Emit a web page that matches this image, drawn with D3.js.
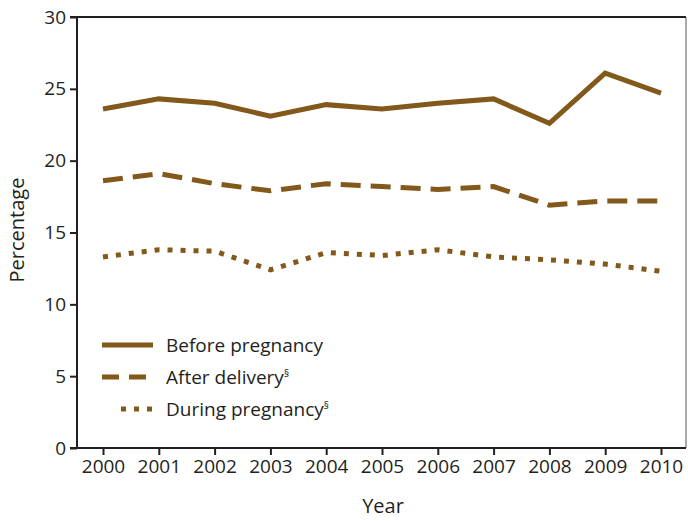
<!DOCTYPE html>
<html>
<head>
<meta charset="utf-8">
<script src="https://cdn.jsdelivr.net/npm/d3@7"></script>
<style>
    body { margin: 0; background: #fff; }
    text { font-family: "Open Sans", sans-serif; fill: #231f20; }
</style>
</head>
<body>
<div class="canvas"></div>
<script>
const years = [2000, 2001, 2002, 2003, 2004, 2005, 2006, 2007, 2008, 2009, 2010];
const beforePregnancy = [23.6, 24.3, 24.0, 23.1, 23.9, 23.6, 24.0, 24.3, 22.6, 26.1, 24.7];
const afterDelivery = [18.6, 19.1, 18.4, 17.9, 18.4, 18.2, 18.0, 18.2, 16.9, 17.2, 17.2];
const duringPregnancy = [13.3, 13.8, 13.7, 12.4, 13.6, 13.4, 13.8, 13.3, 13.1, 12.8, 12.3];
const yTicks = [0, 5, 10, 15, 20, 25, 30];

const series = [
    { name: 'Before pregnancy', sup: '', values: beforePregnancy, dash: null },
    { name: 'After delivery', sup: '§', values: afterDelivery, dash: '20,10' },
    { name: 'During pregnancy', sup: '§', values: duringPregnancy, dash: '5,8' }
];

const width = 688, height = 521;
const padL = 77, padR = 686, padT = 17, padB = 448;
const brown = '#83591b';

const svg = d3.select('.canvas')
    .append('svg')
    .attr('width', width)
    .attr('height', height);

const xScale = d3.scalePoint()
    .domain(years)
    .range([103, 661]);

const yScale = d3.scaleLinear()
    .domain([0, 30])
    .range([padB, padT]);

// frame: top and right
svg.append('line')
    .attr('x1', 70).attr('x2', padR)
    .attr('y1', padT).attr('y2', padT)
    .attr('stroke', '#231f20').attr('stroke-width', 2);
svg.append('line')
    .attr('x1', padR).attr('x2', padR)
    .attr('y1', padT).attr('y2', padB)
    .attr('stroke', '#555').attr('stroke-width', 1);

// x axis
const xAxis = d3.axisBottom(xScale).tickSize(7).tickPadding(5).tickSizeOuter(0);
svg.append('g')
    .attr('transform', `translate(0, ${padB})`)
    .call(xAxis)
    .call(g => g.select('.domain').attr('d', `M70,0H${padR}`))
    .call(g => g.selectAll('path, line').attr('stroke', '#231f20').attr('stroke-width', 2))
    .call(g => g.selectAll('text').attr('font-size', 19).attr('font-family', '"Open Sans", sans-serif'));

// y axis
const yAxis = d3.axisLeft(yScale).tickValues(yTicks).tickSize(7).tickPadding(4).tickSizeOuter(0);
svg.append('g')
    .attr('transform', `translate(${padL}, 0)`)
    .call(yAxis)
    .call(g => g.select('.domain').attr('d', `M0,${padT}V${padB}`))
    .call(g => g.selectAll('path, line').attr('stroke', '#231f20').attr('stroke-width', 2))
    .call(g => g.selectAll('text').attr('font-size', 19).attr('font-family', '"Open Sans", sans-serif'));

// axis titles
svg.append('text')
    .attr('x', 383)
    .attr('y', 513)
    .attr('text-anchor', 'middle')
    .attr('font-size', 20)
    .text('Year');

svg.append('text')
    .attr('transform', `translate(24, 230) rotate(-90)`)
    .attr('text-anchor', 'middle')
    .attr('font-size', 20)
    .text('Percentage');

// lines
const line = d3.line()
    .x((d, i) => xScale(years[i]))
    .y(d => yScale(d));

svg.selectAll('.series')
    .data(series)
    .enter()
    .append('path')
    .attr('class', 'series')
    .attr('d', d => line(d.values))
    .attr('fill', 'none')
    .attr('stroke', brown)
    .attr('stroke-width', 5)
    .attr('stroke-dasharray', d => d.dash);

// legend
const legend = svg.append('g').attr('id', 'legend');
const legendY = [345, 377, 409];
series.forEach((s, i) => {
    legend.append('line')
        .attr('x1', i === 2 ? 121 : 102)
        .attr('x2', 153)
        .attr('y1', legendY[i])
        .attr('y2', legendY[i])
        .attr('stroke', brown)
        .attr('stroke-width', 5)
        .attr('stroke-dasharray', i === 1 ? '17,10' : s.dash);
    const t = legend.append('text')
        .attr('x', 166)
        .attr('y', legendY[i] + 7)
        .attr('font-size', 19)
        .text(s.name);
    if (s.sup) {
        t.append('tspan')
            .attr('dy', -7)
            .attr('font-size', 10)
            .text(s.sup);
    }
});
</script>
</body>
</html>
